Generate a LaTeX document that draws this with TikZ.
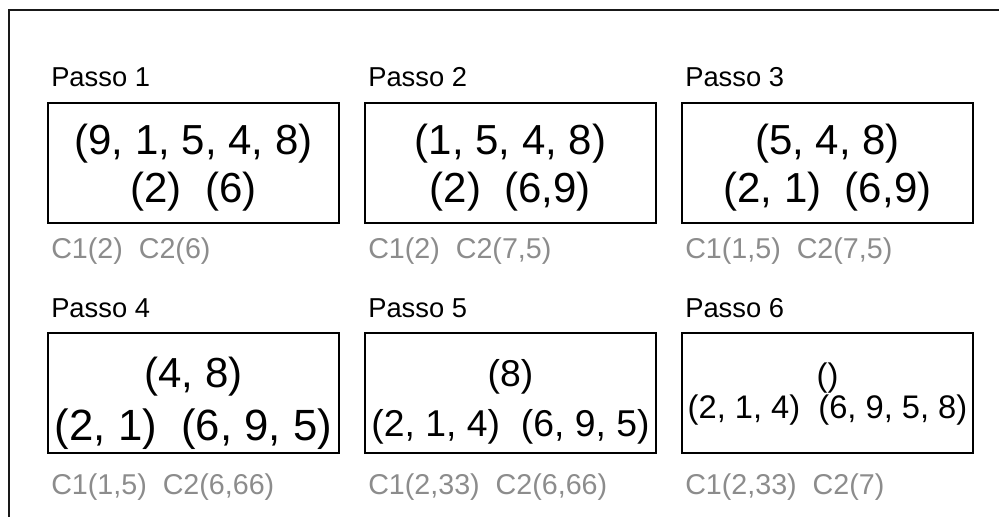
\documentclass[tikz,border=0pt]{standalone}
\usepackage{fontspec}
\setmainfont{Liberation Sans}
\definecolor{notegray}{RGB}{140,140,140}
\definecolor{framegray}{RGB}{25,25,25}
\begin{document}
\begin{tikzpicture}[x=0.75pt,y=-0.75pt,
  stepbox/.style={draw=black, line width=1.1pt, rectangle, inner sep=0pt,
    minimum width=218.25pt, minimum height=90pt},
  steplabel/.style={anchor=base west, inner sep=0pt,
    font=\fontsize{20.5}{24}\selectfont},
  costlabel/.style={anchor=base west, inner sep=0pt, text=notegray,
    font=\fontsize{21.5}{25}\selectfont},
  listline/.style={anchor=base, inner sep=0pt,
    font=\fontsize{31.5}{36}\selectfont},
  listwide/.style={anchor=base, inner sep=0pt,
    font=\fontsize{32.8}{37}\selectfont},
  listmid/.style={anchor=base, inner sep=0pt,
    font=\fontsize{28}{32}\selectfont},
  listsmall/.style={anchor=base, inner sep=0pt,
    font=\fontsize{24.5}{28}\selectfont}]
\clip (0,0) rectangle (999,517);
\fill[white] (0,0) rectangle (999,517);

% outer frame, open to the right and bottom
\draw[framegray, line width=1.5pt, line join=miter]
  (8.5,530) -- (8.5,10.5) -- (1010,10.5);

% ---- row 1 ----
\node[stepbox] (s1) at (193.5,163) {};
\node[stepbox] (s2) at (510.5,163) {};
\node[stepbox] (s3) at (827.5,163) {};

\node[steplabel] (l1) at (51,87) {Passo 1};
\node[steplabel] (l2) at (368,87) {Passo 2};
\node[steplabel] (l3) at (685,87) {Passo 3};

\node[listline] (s1a) at (193.5,154) {(9, 1, 5, 4, 8)};
\node[listline] (s1b) at (193.5,202) {(2)~~(6)};
\node[listline] (s2a) at (510.5,154) {(1, 5, 4, 8)};
\node[listline] (s2b) at (510.5,202) {(2)~~(6,9)};
\node[listline] (s3a) at (827.5,154) {(5, 4, 8)};
\node[listline] (s3b) at (827.5,202) {(2, 1)~~(6,9)};

\node[costlabel] (c1) at (51,258) {C1(2)~~C2(6)};
\node[costlabel] (c2) at (368,258) {C1(2)~~C2(7,5)};
\node[costlabel] (c3) at (685,258) {C1(1,5)~~C2(7,5)};

% ---- row 2 ----
\node[stepbox] (s4) at (193.5,393) {};
\node[stepbox] (s5) at (510.5,393) {};
\node[stepbox] (s6) at (827.5,393) {};

\node[steplabel] (l4) at (51,317) {Passo 4};
\node[steplabel] (l5) at (368,317) {Passo 5};
\node[steplabel] (l6) at (685,317) {Passo 6};

\node[listline] (s4a) at (193.5,387) {(4, 8)};
\node[listwide] (s4b) at (193.5,440) {(2, 1)~~(6, 9, 5)};
\node[listmid] (s5a) at (510.5,386) {(8)};
\node[listmid] (s5b) at (510.5,436) {(2, 1, 4)~~(6, 9, 5)};
\node[listsmall] (s6a) at (827.5,386) {()};
\node[listsmall] (s6b) at (827.5,418) {(2, 1, 4)~~(6, 9, 5, 8)};

\node[costlabel] (c4) at (51,494) {C1(1,5)~~C2(6,66)};
\node[costlabel] (c5) at (368,494) {C1(2,33)~~C2(6,66)};
\node[costlabel] (c6) at (685,494) {C1(2,33)~~C2(7)};
\end{tikzpicture}
\end{document}
